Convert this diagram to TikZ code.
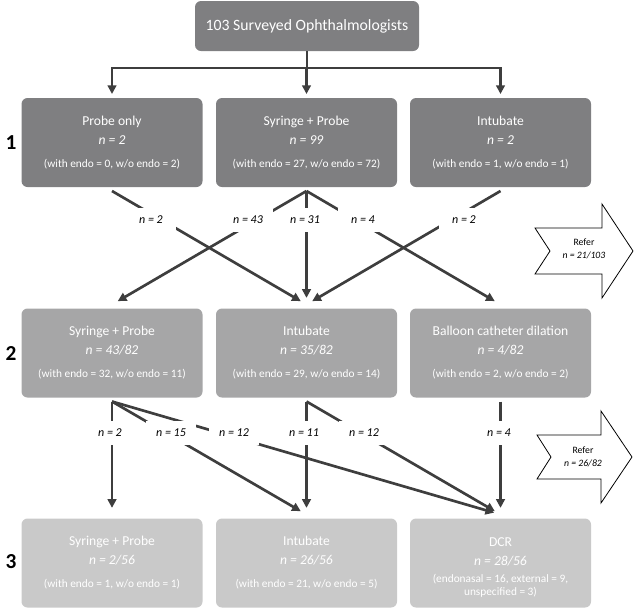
\documentclass[tikz,border=0pt]{standalone}
\usepackage{fontspec}
\setmainfont{Carlito}
\usetikzlibrary{arrows.meta}

\definecolor{rowone}{RGB}{127,127,129}
\definecolor{rowtwo}{RGB}{166,166,167}
\definecolor{rowthree}{RGB}{201,201,201}
\definecolor{connclr}{RGB}{62,62,62}

\newcommand{\boxlines}[3]{#1\\\textit{#2}\\[3pt]{\fontsize{8.5}{9}\selectfont #3}}

\tikzset{every picture/.style={line width=0.75pt}}
\tikzset{
  stepbox/.style={draw=none, rounded corners=4.5pt, minimum width=135.75pt, minimum height=66.75pt,
    text=white, align=center, inner sep=0pt, outer sep=3pt, font=\fontsize{10.2}{14.25}\selectfont},
  conn/.style={draw=connclr, line width=2pt, -{Triangle[length=6.5pt,width=6.5pt]}},
  nlabel/.style={fill=white, minimum width=37.5pt, minimum height=18pt, inner sep=0pt,
    font=\fontsize{9}{10}\selectfont\itshape},
  rownum/.style={inner sep=0pt, font=\fontsize{16}{18}\selectfont\bfseries},
  referarrow/.style={draw=black, line width=0.6pt, fill=white, line join=miter},
  refertext/.style={align=center, inner sep=0pt, font=\fontsize{7.3}{9.5}\selectfont}
}

\begin{document}
\begin{tikzpicture}[x=0.75pt,y=0.75pt,yscale=-1,xscale=1]
\useasboundingbox (0,0) rectangle (635,608);

% Top box
\node[stepbox, fill=rowone, minimum width=168pt, minimum height=37.5pt, outer sep=0pt,
  font=\fontsize{11.8}{13}\selectfont] (survey) at (307,26) {103 Surveyed Ophthalmologists};

% Row 1
\node[stepbox, fill=rowone] (probe1) at (112,142.5) {\boxlines{Probe only}{n = 2}{(with endo = 0, w/o endo = 2)}};
\node[stepbox, fill=rowone] (syr1) at (306.5,142.5) {\boxlines{Syringe + Probe}{n = 99}{(with endo = 27, w/o endo = 72)}};
\node[stepbox, fill=rowone] (intub1) at (500.5,142.5) {\boxlines{Intubate}{n = 2}{(with endo = 1, w/o endo = 1)}};

% Row 2
\node[stepbox, fill=rowtwo] (syr2) at (112,353) {\boxlines{Syringe + Probe}{n = 43/82}{(with endo = 32, w/o endo = 11)}};
\node[stepbox, fill=rowtwo] (intub2) at (306.5,353) {\boxlines{Intubate}{n = 35/82}{(with endo = 29, w/o endo = 14)}};
\node[stepbox, fill=rowtwo] (balloon2) at (500.5,353) {\boxlines{Balloon catheter dilation}{n = 4/82}{(with endo = 2, w/o endo = 2)}};

% Row 3
\node[stepbox, fill=rowthree] (syr3) at (112,563) {\boxlines{Syringe + Probe}{n = 2/56}{(with endo = 1, w/o endo = 1)}};
\node[stepbox, fill=rowthree] (intub3) at (306.5,563) {\boxlines{Intubate}{n = 26/56}{(with endo = 21, w/o endo = 5)}};
\node[stepbox, fill=rowthree] (dcr3) at (500.5,563) {\rule{0pt}{15pt}DCR\\\textit{n = 28/56}\\[3.5pt]{\fontsize{8.5}{9.5}\selectfont
  \begin{tabular}{@{}c@{}}(endonasal = 16, external = 9,\\unspecified = 3)\end{tabular}}};

% Row numbers
\node[rownum] (rowa) at (11,143) {1};
\node[rownum] (rowb) at (11,353) {2};
\node[rownum] (rowc) at (11,562) {3};

% Split from the top box
\coordinate (split) at (306.5,68);
\draw[conn] (survey.south) -- (survey.south |- split) -| (probe1.north);
\draw[conn] (survey.south) -- (survey.south |- split) -| (syr1.north);
\draw[conn] (survey.south) -- (survey.south |- split) -| (intub1.north);

% Row 1 to row 2
\draw[conn, shorten >=5pt] (probe1.south) -- (intub2.north);
\draw[conn, shorten >=5pt] (syr1.south) -- (syr2.north);
\draw[conn, shorten >=5pt] (syr1.south) -- (intub2.north);
\draw[conn, shorten >=5pt] (syr1.south) -- (balloon2.north);
\draw[conn, shorten >=5pt] (intub1.south) -- (intub2.north);

% Row 2 to row 3
\draw[conn, shorten >=5pt] (syr2.south) -- (syr3.north);
\draw[conn, shorten >=5pt] (syr2.south) -- (intub3.north);
\draw[conn, shorten >=5pt] (syr2.south) -- (dcr3.north);
\draw[conn, shorten >=5pt] (intub2.south) -- (intub3.north);
\draw[conn, shorten >=5pt] (intub2.south) -- (dcr3.north);
\draw[conn, shorten >=5pt] (balloon2.south) -- (dcr3.north);

% Counts on the connectors
\node[nlabel] (na) at (151,219.5) {n = 2};
\node[nlabel] (nb) at (248,219.5) {n = 43};
\node[nlabel] (nc) at (305,219.5) {n = 31};
\node[nlabel] (nd) at (363,219.5) {n = 4};
\node[nlabel] (ne) at (464,219.5) {n = 2};

\node[nlabel] (nf) at (110,433) {n = 2};
\node[nlabel] (ng) at (171,433) {n = 15};
\node[nlabel] (nh) at (234,433) {n = 12};
\node[nlabel] (ni) at (304,433) {n = 11};
\node[nlabel] (nj) at (364,433) {n = 12};
\node[nlabel] (nk) at (499,433) {n = 4};

% Refer arrows
\draw[referarrow] (535,228) -- (602,228) -- (602,204) -- (633,251) -- (602,298) -- (602,274) -- (535,274) -- (550,251) -- cycle;
\node[refertext] (refera) at (584,249) {Refer\\\textit{n = 21/103}};
\draw[referarrow] (537,435) -- (601,435) -- (601,411) -- (632,457) -- (601,503) -- (601,479) -- (537,479) -- (551,457) -- cycle;
\node[refertext] (referb) at (583,457) {Refer\\\textit{n = 26/82}};

\end{tikzpicture}
\end{document}
